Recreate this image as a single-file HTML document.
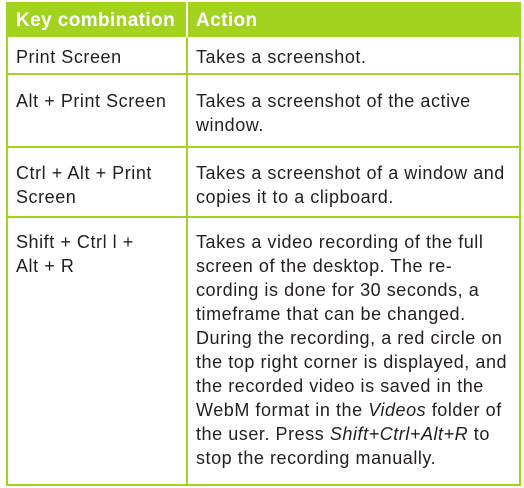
<!DOCTYPE html>
<html><head><style>
body{margin:0;width:524px;height:488px;background:#fff;position:relative;overflow:hidden;font-family:"Liberation Sans",sans-serif;}
.b{position:absolute;background:#a3d31f;}
.t{position:absolute;font-size:18px;letter-spacing:0.55px;line-height:24px;color:#231f20;white-space:nowrap;}
.h{position:absolute;font-size:19px;letter-spacing:0.4px;font-weight:bold;color:#fff;white-space:nowrap;line-height:24px;}
</style></head><body>
<div class="b" style="left:6px;top:2px;width:515px;height:35px"></div>
<div style="position:absolute;left:186px;top:2px;width:2px;height:35px;background:#fff"></div>
<div class="b" style="left:6px;top:2px;width:2px;height:484px"></div>
<div class="b" style="left:519px;top:2px;width:2px;height:484px"></div>
<div class="b" style="left:186px;top:37px;width:2px;height:449px"></div>
<div class="b" style="left:6px;top:73px;width:515px;height:2px"></div>
<div class="b" style="left:6px;top:146px;width:515px;height:2px"></div>
<div class="b" style="left:6px;top:216px;width:515px;height:2px"></div>
<div class="b" style="left:6px;top:484px;width:515px;height:2px"></div>
<div class="h" style="left:16px;top:9px">Key combination</div>
<div class="h" style="left:196px;top:9px">Action</div>
<div class="t" style="left:16px;top:45px">Print Screen</div>
<div class="t" style="left:196px;top:45px">Takes a screenshot.</div>
<div class="t" style="left:16px;top:89px">Alt + Print Screen</div>
<div class="t" style="left:196px;top:89px">Takes a screenshot of the active<br>window.</div>
<div class="t" style="left:16px;top:161px">Ctrl + Alt + Print<br>Screen</div>
<div class="t" style="left:196px;top:161px">Takes a screenshot of a window and<br>copies it to a clipboard.</div>
<div class="t" style="left:16px;top:230px">Shift + Ctrl l +<br>Alt + R</div>
<div class="t" style="left:196px;top:230px">Takes a video recording of the full<br>screen of the desktop. The re-<br>cording is done for 30 seconds, a<br>timeframe that can be changed.<br>During the recording, a red circle on<br>the top right corner is displayed, and<br>the recorded video is saved in the<br>WebM format in the <i>Videos</i> folder of<br>the user. Press <i>Shift+Ctrl+Alt+R</i> to<br>stop the recording manually.</div>
</body></html>
